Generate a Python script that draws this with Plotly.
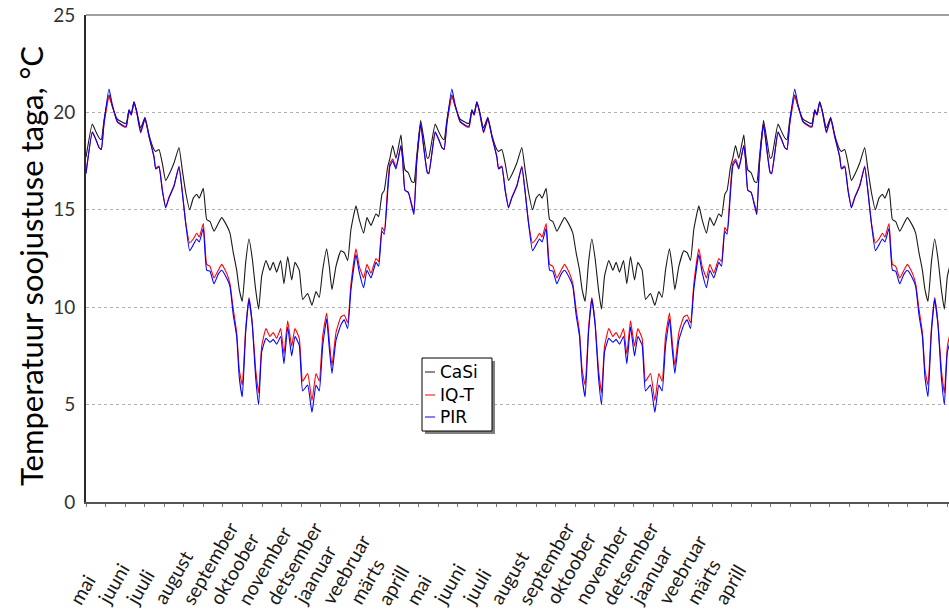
import plotly.graph_objects as go

# ---------------- data (one typical year, hours from 1 May) ----------------
HOURS_PER_YEAR = 8760
N_YEARS = 3

year_hours = [0, 161, 255, 332, 391, 460, 588, 672, 800, 971, 1030, 1099, 1157, 1226, 1295,
              1397, 1507, 1609, 1737, 1781, 1865, 1949, 2036, 2120, 2248, 2376, 2460, 2547,
              2649, 2741, 2828, 2894, 2997, 3084, 3168, 3270, 3380, 3467, 3594, 3679, 3763,
              3850, 3916, 3993, 4080, 4164, 4248, 4335, 4412, 4489, 4598, 4701, 4785, 4872,
              4974, 5058, 5153, 5255, 5339, 5449, 5536, 5664, 5774, 5876, 5960, 6047, 6149,
              6216, 6285, 6387, 6514, 6599, 6686, 6770, 6898, 6982, 7094, 7179, 7281, 7409,
              7478, 7562, 7621, 7708, 7766, 7835, 7920, 8047, 8091, 8150, 8234, 8321, 8379,
              8448, 8551, 8635, 8719]

casi_year = [17.7, 19.4, 19.0, 18.7, 18.6, 19.6, 20.9, 20.3, 19.66, 19.45, 19.45, 20.15, 19.9,
             20.55, 20.05, 19.2, 19.75, 18.85, 18.1, 18.0, 18.1, 17.4, 16.5, 16.8, 17.4, 18.2,
             17.05, 15.9, 15.0, 15.6, 15.8, 15.6, 16.1, 14.5, 14.4, 13.9, 14.3, 14.6, 14.2,
             13.8, 12.8, 11.9, 10.9, 10.3, 12.3, 13.5, 12.5, 10.9, 9.9, 11.6, 12.4, 11.9, 12.3,
             11.8, 12.4, 11.2, 12.6, 11.4, 12.3, 11.9, 10.4, 10.7, 10.1, 10.8, 10.5, 11.9, 13.0,
             12.1, 10.9, 12.1, 12.9, 12.8, 12.4, 14.0, 15.2, 14.5, 13.8, 14.6, 14.2, 14.8,
             14.65, 15.8, 16.0, 17.2, 17.65, 18.3, 17.65, 18.85, 17.9, 17.05, 16.9, 16.45, 16.4,
             17.7, 19.6, 18.6, 17.65]

iqt_year = [16.9, 18.95, 18.6, 18.2, 18.1, 19.4, 20.8, 20.35, 19.5, 19.25, 19.25, 20.05, 19.85,
            20.5, 20.0, 18.95, 19.65, 18.75, 17.75, 17.15, 17.25, 16.05, 15.15, 15.65, 16.25,
            17.25, 15.95, 14.35, 13.3, 13.5, 13.8, 13.6, 14.3, 12.2, 12.1, 11.5, 11.9, 12.2,
            11.75, 11.2, 9.9, 8.7, 6.8, 6.0, 8.9, 10.5, 9.2, 6.8, 5.6, 8.0, 8.9, 8.5, 8.7, 8.4,
            8.9, 7.6, 9.3, 8.0, 8.9, 8.4, 6.2, 6.6, 5.2, 6.6, 6.2, 8.5, 9.7, 8.3, 7.0, 8.7, 9.5,
            9.6, 9.2, 11.2, 13.0, 12.1, 11.5, 12.2, 11.75, 12.5, 12.35, 14.1, 13.9, 16.2, 17.4,
            17.6, 17.2, 18.3, 17.6, 16.0, 15.9, 15.3, 14.9, 17.4, 19.4, 18.1, 16.95]

pir_year = [16.85, 19.0, 18.6, 18.2, 18.1, 19.45, 21.2, 20.4, 19.54, 19.3, 19.3, 20.1, 19.9,
            20.55, 20.05, 19.0, 19.7, 18.8, 17.7, 17.1, 17.2, 16.0, 15.1, 15.6, 16.2, 17.2,
            15.9, 14.3, 12.9, 13.2, 13.5, 13.35, 14.05, 11.9, 11.85, 11.2, 11.7, 11.9, 11.5,
            11.06, 9.6, 8.5, 6.4, 5.4, 8.7, 10.4, 9.1, 6.4, 5.0, 7.7, 8.4, 8.2, 8.35, 8.1, 8.5,
            7.1, 9.0, 7.5, 8.5, 8.05, 5.7, 6.0, 4.6, 6.0, 5.7, 8.0, 9.4, 7.9, 6.6, 8.3, 9.1,
            9.35, 8.9, 10.9, 12.7, 11.8, 11.0, 11.9, 11.5, 12.3, 12.1, 13.9, 13.75, 15.9, 17.25,
            17.5, 17.1, 18.3, 17.6, 16.0, 15.9, 15.2, 14.75, 17.4, 19.4, 18.1, 16.9]

series_names = ["CaSi", "IQ-T", "PIR"]
series_colors = ["#1a1a1a", "#ff0000", "#0000ff"]

month_labels = ["mai", "juuni", "juuli", "august", "september", "oktoober", "november",
                "detsember", "jaanuar", "veebruar", "märts", "aprill"] * 2
label_step_hours = 716

y_ticks = [0, 5, 10, 15, 20, 25]
x_tick_step = 500
x_end = 22050
y_title = "Temperatuur soojustuse taga, °C"

# ---------------- build repeated series ----------------
hours = [h + k * HOURS_PER_YEAR for k in range(N_YEARS) for h in year_hours]
series_values = [casi_year * N_YEARS, iqt_year * N_YEARS, pir_year * N_YEARS]

# ---------------- layout geometry ----------------
W, H = 949, 610
L, R, T, B = 86, 0, 15, 108
PW, PH = W - L - R, H - T - B


def px(x):
    return (x - L) / PW


def py(y):
    return (H - B - y) / PH


fig = go.Figure()
for name, vals, col in zip(series_names, series_values, series_colors):
    fig.add_trace(go.Scatter(x=hours, y=vals, mode="lines", name=name,
                             line=dict(color=col, width=1.1, shape="spline", smoothing=0.4),
                             showlegend=False))

annotations = []
for i, lab in enumerate(month_labels):
    annotations.append(dict(x=i * label_step_hours, xref="x", y=py(611), yref="paper",
                            text=lab, showarrow=False, textangle=-60,
                            xanchor="left", yanchor="bottom", xshift=-24,
                            font=dict(family="Lato", size=19.5, color="#1a1a1a")))

# y-axis title
annotations.append(dict(x=px(31), y=py(266), xref="paper", yref="paper", text=y_title,
                        showarrow=False, textangle=-90, xanchor="center", yanchor="middle",
                        font=dict(family="Lato", size=31, color="#000000")))

shapes = [
    # top border
    dict(type="line", xref="paper", yref="paper", x0=0, x1=1, y0=1, y1=1,
         line=dict(color="#a0a0a0", width=2)),
    # legend shadow
    dict(type="rect", xref="paper", yref="paper", x0=px(425), x1=px(495),
         y0=py(434), y1=py(361), fillcolor="#808080", line=dict(width=0)),
    # legend box
    dict(type="rect", xref="paper", yref="paper", x0=px(422), x1=px(492),
         y0=py(431), y1=py(358), fillcolor="white", line=dict(color="#000000", width=1)),
]
legend_rows_y = [372, 395, 417]
for name, col, yy in zip(series_names, series_colors, legend_rows_y):
    shapes.append(dict(type="line", xref="paper", yref="paper", x0=px(425), x1=px(435),
                       y0=py(yy), y1=py(yy), line=dict(color=col, width=1)))
    annotations.append(dict(x=px(438), y=py(yy), xref="paper", yref="paper", text=name,
                            showarrow=False, xanchor="left", yanchor="middle",
                            font=dict(family="DejaVu Sans", size=17, color="#000000")))

fig.update_layout(
    width=W, height=H,
    margin=dict(l=L, r=R, t=T, b=B, pad=0),
    paper_bgcolor="white", plot_bgcolor="white",
    showlegend=False,
    annotations=annotations,
    shapes=shapes,
    xaxis=dict(range=[0, x_end], showgrid=False, zeroline=False,
               showline=True, linecolor="#555555", linewidth=2,
               ticks="outside", ticklen=3, tickcolor="#777777", tickwidth=1,
               tick0=0, dtick=x_tick_step, showticklabels=False),
    yaxis=dict(range=[0, 25], tickvals=y_ticks, showgrid=True, gridcolor="#b0b0b0",
               griddash="dot", gridwidth=1, zeroline=False,
               showline=True, linecolor="#2a2a2a", linewidth=2, ticks="",
               ticklabelstandoff=5,
               tickfont=dict(family="Lato", size=19, color="#333333")),
)

fig.write_html("out.html")
